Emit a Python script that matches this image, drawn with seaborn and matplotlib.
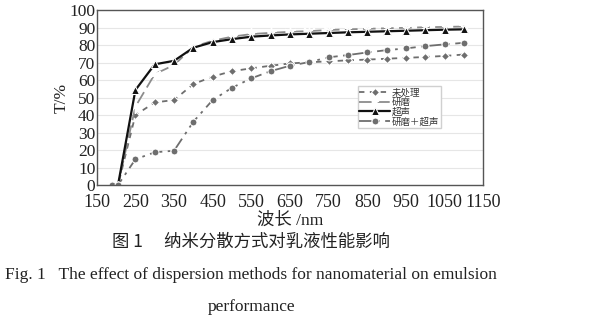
import matplotlib
matplotlib.use("Agg")
import matplotlib.pyplot as plt
import seaborn as sns
import pandas as pd

wavelength = [190, 205, 250, 300, 350, 400, 450, 500, 550, 600, 650, 700,
              750, 800, 850, 900, 950, 1000, 1050, 1100]
untreated = [0, 0, 40, 47.2, 48.6, 57.7, 62, 65.1, 66.7, 68.2, 69.5, 70.2,
             70.7, 71.3, 71.7, 72.2, 72.7, 73.2, 73.8, 74.6]
grinding = [0, 0, 44.8, 63.4, 68.6, 79, 82.5, 84.8, 86.3, 87, 87.6, 88,
            88.6, 89, 89.3, 89.6, 89.9, 90.2, 90.4, 90.6]
ultrasound = [0, 0, 54.3, 69, 71, 78.5, 81.7, 83.4, 84.8, 85.5, 86.1, 86.5,
              86.9, 87.3, 87.6, 87.9, 88.2, 88.5, 88.8, 89]
grind_ultra = [0, 0, 14.7, 18.7, 19.6, 36.2, 48.6, 55.6, 61, 65.1, 68.2, 70.3,
               73, 74.3, 75.8, 77.1, 78.1, 79.4, 80.4, 81.3]
series_names = ["未处理", "研磨", "超声", "研磨＋超声"]
x_ticks = [150, 250, 350, 450, 550, 650, 750, 850, 950, 1050, 1150]
y_ticks = [0, 10, 20, 30, 40, 50, 60, 70, 80, 90, 100]

sns.set_theme(style="white")
plt.rcParams['font.family'] = ['Liberation Serif', 'Noto Sans CJK SC']
plt.rcParams['axes.unicode_minus'] = False

fig = plt.figure(figsize=(6.01, 3.26), dpi=100)
ax = fig.add_axes([0.161, 0.4325, 0.643, 0.5365])

styles = [
    dict(color="#6e6e6e", linestyle=(0, (3, 3)), marker="D", markersize=4, linewidth=1.3),
    dict(color="#8c8c8c", linestyle=(0, (7, 3)), marker=(6, 2, 0), markersize=9, linewidth=1.3,
         markeredgewidth=1.0),
    dict(color="#111111", linestyle="-", marker="^", markersize=5.5, linewidth=1.6),
    dict(color="#6e6e6e", linestyle=(0, (7, 3, 1.5, 3)), marker="o", markersize=5, linewidth=1.3),
]
data = [untreated, grinding, ultrasound, grind_ultra]
for name, vals, st in zip(series_names, data, styles):
    df = pd.DataFrame({"x": wavelength, "y": vals})
    sns.lineplot(data=df, x="x", y="y", ax=ax, label=name, **st)

ax.set_xlim(150, 1150)
ax.set_ylim(0, 100)
ax.set_xticks(x_ticks)
ax.set_yticks(y_ticks)
ax.tick_params(axis="y", labelsize=12.5, length=0, pad=1, colors="#222222")
ax.tick_params(axis="x", labelsize=13, length=0, pad=6.5, colors="#222222")
ax.yaxis.grid(True, color="#e6e6e6", linewidth=0.8)
ax.xaxis.grid(False)
for s in ax.spines.values():
    s.set_color("#555555")
    s.set_linewidth(1.0)
ax.set_xlabel("波长 /nm", fontsize=12.5, labelpad=1, color="#222222")
ax.set_ylabel("T/%", fontsize=12.5, labelpad=0, color="#222222")

leg = ax.legend(loc="upper left", bbox_to_anchor=(0.675, 0.565), fontsize=6.8,
                frameon=True, framealpha=1, edgecolor="#d0d0d0", fancybox=False,
                handlelength=3.2, handletextpad=0.2, borderpad=0.2, labelspacing=0.05,
                borderaxespad=0)
for t in leg.get_texts():
    t.set_color("#333333")

fig.text(0.418, 0.259, "图 1　 纳米分散方式对乳液性能影响", ha="center", va="center",
         fontsize=12.5, color="#222222", family=['Noto Sans CJK SC'])
fig.text(0.418, 0.156, "Fig. 1   The effect of dispersion methods for nanomaterial on emulsion",
         ha="center", va="center", fontsize=12.5, color="#222222")
fig.text(0.418, 0.058, "performance", ha="center", va="center", fontsize=12.5, color="#222222")

fig.savefig("out.png", dpi=100)
